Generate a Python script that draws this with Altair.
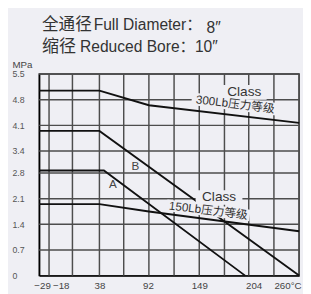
import altair as alt
import pandas as pd

BG = "#efeff4"
FONT = "Liberation Sans, Arial, Noto Sans CJK SC, sans-serif"
GRID = "#4d4d4d"
INK = "#111111"

title_full_cn = "全通径"
title_full_en = "Full Diameter："
title_full_size = "8″"
title_red_cn = "缩径"
title_red_en = "Reduced Bore："
title_red_size = "10″"

temps_300 = [-29, 38, 93, 260]
mpa_300 = [5.05, 5.05, 4.65, 4.17]
temps_150 = [-29, 38, 93, 260]
mpa_150 = [1.95, 1.95, 1.75, 1.21]
temps_b = [-29, 38, 260]
mpa_b = [3.95, 3.95, 0.0]
temps_a = [-29, 43, 200]
mpa_a = [2.87, 2.87, 0.0]

x_label_values = [-29, -18, 38, 92, 149, 204, 260]
y_label_values = [0, 0.7, 1.4, 2.1, 2.8, 3.4, 4.1, 4.8, 5.5]
grid_temps = [-18, 8, 38, 65, 93, 121, 149, 177, 204, 232, 260]
grid_mpa = [0.7, 1.4, 2.1, 2.8, 3.4, 4.1, 4.8, 5.5]

curve_letters = ["A", "B"]
letter_t = [53, 78]
letter_v = [2.5, 2.99]

class_word = ["Class", "Class"]
class_t = [199, 171]
class_v = [5.0, 2.13]
rating_text = ["300Lb压力等级", "150Lb压力等级"]
rating_t = [189, 159]
rating_v = [4.68, 1.78]

def series(name, ts, vs):
    return pd.DataFrame({"t": ts, "v": vs, "s": name})

df_main = pd.concat([series("300", temps_300, mpa_300),
                     series("150", temps_150, mpa_150)])
df_ab = pd.concat([series("A", temps_a, mpa_a), series("B", temps_b, mpa_b)])
df_xgrid = pd.DataFrame({"t": grid_temps})
df_ygrid = pd.DataFrame({"v": grid_mpa})
df_letters = pd.DataFrame({"t": letter_t, "v": letter_v, "txt": curve_letters})
df_class = pd.DataFrame({"t": class_t, "v": class_v, "txt": class_word})
df_rating = pd.DataFrame({"t": rating_t, "v": rating_v, "txt": rating_text})

W, H = 267, 207
xs = alt.Scale(domain=[-29, 260], nice=False, zero=False)
ys = alt.Scale(domain=[0, 5.5], nice=False)

x_axis = alt.Axis(
    values=x_label_values, grid=False, ticks=False, title=None,
    domainColor="#000", domainWidth=1.5, labelPadding=5,
    labelFontSize=10, labelColor="#444", labelFont=FONT,
    labelExpr="datum.value == 260 ? '260°C' : datum.label",
    labelAlign={"condition": {"test": "datum.value == 260", "value": "right"}, "value": "center"},
    labelOffset={"condition": [
        {"test": "datum.value == -29", "value": 3},
        {"test": "datum.value == -18", "value": 12},
        {"test": "datum.value == 204", "value": 5},
        {"test": "datum.value == 260", "value": 2}], "value": 0},
    labelOverlap=False,
)
y_axis = alt.Axis(
    values=y_label_values, grid=False,
    ticks=False, domainColor="#000", domainWidth=1.5,
    labelExpr="datum.value == 0 ? '0' : format(datum.value, '.1f')",
    labelAlign="left", labelBaseline="middle", labelPadding=28,
    labelFontSize=9, labelColor="#555", labelFont=FONT, labelOverlap=False,
    labelSeparation=0,
    title="MPa", titleAngle=0, titleX=-28, titleY=-10, titleAlign="left",
    titleBaseline="middle", titleFontWeight="normal", titleFontSize=10,
    titleColor="#444", titleFont=FONT,
)

X = alt.X("t:Q", scale=xs, axis=x_axis)
Y = alt.Y("v:Q", scale=ys, axis=y_axis)

xgrid = alt.Chart(df_xgrid).mark_rule(color=GRID, strokeWidth=1.5).encode(x=X)
ygrid = alt.Chart(df_ygrid).mark_rule(color=GRID, strokeWidth=1.5).encode(
    y=Y, x=alt.value(0), x2=alt.value(W))

ab_lines = alt.Chart(df_ab).mark_line(color=INK, strokeWidth=1.9).encode(
    x=X, y=Y, detail="s:N")

def box(df_row, w, h, angle):
    ratio = h / w
    path = f"M-1,-{ratio:.4f}L1,-{ratio:.4f}L1,{ratio:.4f}L-1,{ratio:.4f}Z"
    return alt.Chart(df_row).mark_point(
        shape=path, size=w * w, filled=True, color=BG, opacity=1,
        strokeWidth=0, angle=angle).encode(x=X, y=Y)

boxes = [
    box(df_class.iloc[[0]], 46, 15, 0),
    box(df_class.iloc[[1]], 48, 15, 0),
    box(df_rating.iloc[[0]], 90, 13, 7),
    box(df_rating.iloc[[1]], 86, 12, 7),
]

main_lines = alt.Chart(df_main).mark_line(color=INK, strokeWidth=1.9).encode(
    x=X, y=Y, detail="s:N")

letters = alt.Chart(df_letters).mark_text(
    fontSize=12, font=FONT, color="#444").encode(x=X, y=Y, text="txt:N")
class_txt = alt.Chart(df_class).mark_text(
    fontSize=14, font=FONT, color="#333").encode(x=X, y=Y, text="txt:N")
rating_txt = alt.Chart(df_rating).mark_text(
    fontSize=12, font=FONT, color="#333", angle=7).encode(x=X, y=Y, text="txt:N")

def label(text, x, y, size):
    return alt.Chart(pd.DataFrame({"txt": [text]})).mark_text(
        align="left", baseline="middle", fontSize=size, font=FONT, color="#333"
    ).encode(x=alt.value(x), y=alt.value(y), text="txt:N")

titles = [
    label(title_full_cn, 3, -50, 17),
    label(title_full_en, 56, -50, 16),
    label(title_full_size, 172, -47, 16),
    label(title_red_cn, 3, -28, 17.5),
    label(title_red_en, 42, -28, 16),
    label(title_red_size, 160, -28, 16),
]

chart = alt.layer(
    xgrid, ygrid, ab_lines, *boxes, main_lines, letters, class_txt, rating_txt, *titles
).properties(
    width=W, height=H,
    autosize=alt.AutoSizeParams(type="none"),
    padding={"left": 32, "top": 64, "right": 4, "bottom": 15},
    background=BG,
).configure_view(stroke="#333", strokeWidth=1.5).configure_axis(labelOverlap=False)

chart.save("out.html", embed_options={"renderer": "svg", "actions": False})
